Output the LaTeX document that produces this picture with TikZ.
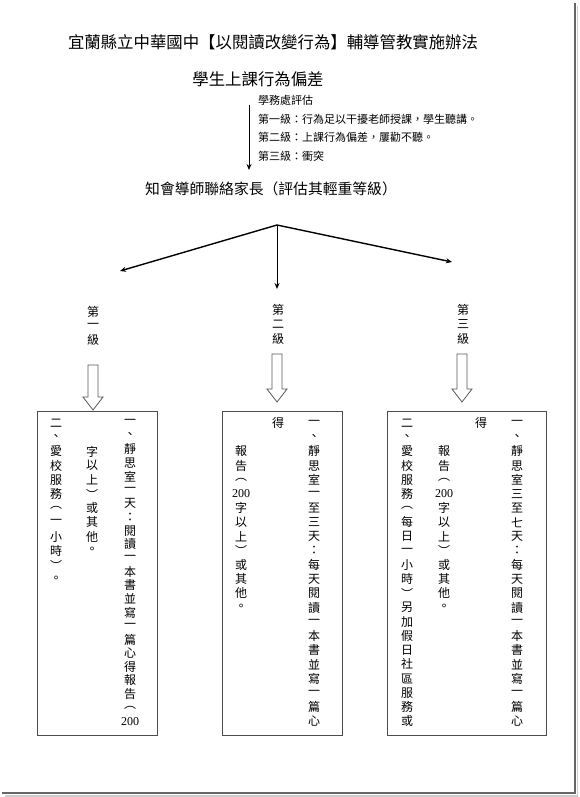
\documentclass[tikz,border=0pt]{standalone}
\usepackage{fontspec}
\setmainfont{Liberation Serif}
\newfontfamily\cjk{Noto Sans CJK TC}
\usetikzlibrary{arrows.meta}

% one column of upright characters, read top to bottom
\newcommand\vcol[5]{%
  \foreach \ch [count=\k from 0] in {#5}
    \node[vchar] (#1-\k) at (#2,{#3+\k*#4}) {\ch};}

\begin{document}
\begin{tikzpicture}[x=1pt,y=-1pt,>={Stealth[length=6pt,width=5pt]},
  vchar/.style={font=\cjk\fontsize{12}{14}\selectfont,inner sep=0pt},
  head/.style={font=\cjk\fontsize{16.4}{18}\selectfont,inner sep=0pt},
  panel/.style={draw=black!70,line width=0.8pt,minimum height=324pt,inner sep=0pt},
  blockarr/.pic={\draw[black!65,line width=0.8pt,fill=white]
    (-5,0) -- (-5,#1-13) -- (-10,#1-13) -- (0,#1) -- (10,#1-13) -- (5,#1-13) -- (5,0) -- cycle;}]
\useasboundingbox (0,0) rectangle (579,797);
% page shadow
\draw[black!20,line width=1.5pt] (577.6,6) -- (577.6,795.8) -- (5,795.8);
\draw[black!60,line width=2.5pt] (575,3) -- (575,793) -- (2,793);

\node[head] (title) at (273,42) {宜蘭縣立中華國中【以閱讀改變行為】輔導管教實施辦法};
\node[head] (sub) at (258,79) {學生上課行為偏差};
\node[font=\cjk\fontsize{11}{18.4}\selectfont,align=left,anchor=north west,inner sep=0pt] (eval) at (258,95.5)
  {學務處評估\\第一級：行為足以干擾老師授課，學生聽講。\\第二級：上課行為偏差，屢勸不聽。\\第三級：衝突};
\coordinate (ev1) at (249,105);
\coordinate (ev2) at (249,170);
\draw[->,line width=1pt] (ev1) -- (ev2);
\node[font=\cjk\fontsize{14.8}{16}\selectfont,inner sep=0pt] (notify) at (271,188.5) {知會導師聯絡家長（評估其輕重等級）};

% three branches
\coordinate (fork) at (277,225);
\coordinate (endA) at (120,271);
\coordinate (endB) at (277,289);
\coordinate (endC) at (452,262);
\draw[->,line width=1.4pt] (fork) -- (endA);
\draw[->,line width=1pt] (fork) -- (endB);
\draw[->,line width=1.4pt] (fork) -- (endC);

% levels
\vcol{lvA}{93}{312}{14}{第,一,級}
\vcol{lvB}{278}{310}{14.5}{第,二,級}
\vcol{lvC}{463}{310}{14.5}{第,三,級}
\pic at (93,365) {blockarr=45};
\pic at (277,354) {blockarr=48};
\pic at (462,354) {blockarr=48};

% boxes
\node[panel,minimum width=120pt] (boxA) at (97,573) {};
\node[panel,minimum width=120pt] (boxB) at (282,573) {};
\node[panel,minimum width=159pt] (boxC) at (466.5,573) {};

\vcol{A1}{130}{422}{13.6}{一,、,靜,思,室,一,天,：,閱,讀,一,本,書,並,寫,一,篇,心,得,報,告,︵,\rmfamily 200}
\vcol{A2}{92}{451.4}{14.2}{字,以,上,︶,或,其,他,。}
\vcol{A3}{56}{423}{14.2}{二,、,愛,校,服,務,︵,一,小,時,︶,。}

\vcol{B1}{314}{423}{14.2}{一,、,靜,思,室,一,至,三,天,：,每,天,閱,讀,一,本,書,並,寫,一,篇,心}
\vcol{B2}{278}{423}{14.2}{得}
\vcol{B3}{241}{451.4}{14.2}{報,告,︵,\rmfamily 200,字,以,上,︶,或,其,他,。}

\vcol{C1}{517}{423}{14.2}{一,、,靜,思,室,三,至,七,天,：,每,天,閱,讀,一,本,書,並,寫,一,篇,心}
\vcol{C2}{481}{423}{14.2}{得}
\vcol{C3}{444}{451.4}{14.2}{報,告,︵,\rmfamily 200,字,以,上,︶,或,其,他,。}
\vcol{C4}{407}{423}{14.2}{二,、,愛,校,服,務,︵,每,日,一,小,時,︶,另,加,假,日,社,區,服,務,或}
\end{tikzpicture}
\end{document}
